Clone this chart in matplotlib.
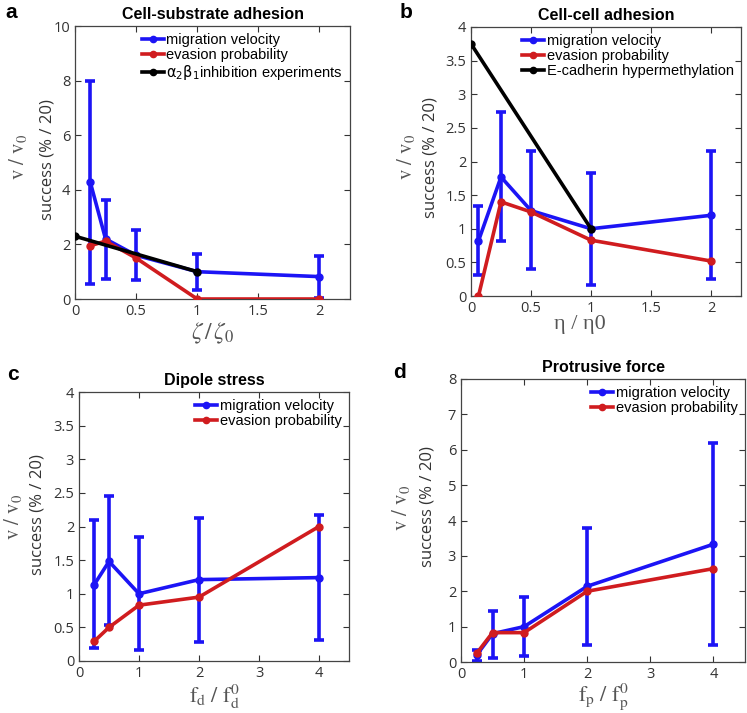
import matplotlib.pyplot as plt
from matplotlib.font_manager import FontProperties

# panel a : cell-substrate adhesion
a_x = [0.125, 0.25, 0.5, 1, 2]
a_vel = [4.28, 2.2, 1.6, 1.0, 0.82]
a_lo = [0.55, 0.75, 0.7, 0.32, 0.02]
a_hi = [8.0, 3.62, 2.53, 1.66, 1.58]
a_eva = [1.95, 2.12, 1.5, 0.0, 0.0]
a_exp_x = [0, 1]
a_exp = [2.3, 1.0]

# panel b : cell-cell adhesion
b_x = [0.0625, 0.25, 0.5, 1, 2]
b_vel = [0.82, 1.77, 1.27, 1.0, 1.2]
b_lo = [0.31, 0.82, 0.4, 0.16, 0.25]
b_hi = [1.34, 2.74, 2.15, 1.83, 2.15]
b_eva = [0.0, 1.4, 1.25, 0.83, 0.52]
b_exp_x = [0, 1]
b_exp = [3.75, 1.0]

# panel c : dipole stress
c_x = [0.25, 0.5, 1, 2, 4]
c_vel = [1.13, 1.48, 1.0, 1.21, 1.24]
c_lo = [0.2, 0.53, 0.16, 0.28, 0.31]
c_hi = [2.09, 2.45, 1.84, 2.13, 2.17]
c_eva = [0.29, 0.5, 0.83, 0.95, 2.0]

# panel d : protrusive force
d_x = [0.25, 0.5, 1, 2, 4]
d_vel = [0.2, 0.8, 1.0, 2.14, 3.33]
d_lo = [0.02, 0.11, 0.16, 0.47, 0.49]
d_hi = [0.35, 1.43, 1.83, 3.8, 6.18]
d_eva = [0.25, 0.83, 0.83, 2.0, 2.64]

BLUE = "#1c14f5"
RED = "#d01c1f"
TICKC = "#333333"

fig = plt.figure(figsize=(7.47, 7.13), dpi=100)
W, H = 747, 713


def px_axes(l, t, r, b):
    return fig.add_axes([l / W, 1 - b / H, (r - l) / W, (b - t) / H])


def panel(ax, x, vel, lo, hi, eva, ylab_x, ylab_y, exp_x=None, exp=None, exp_label=None):
    yerr = [[v - l for v, l in zip(vel, lo)], [h - v for v, h in zip(vel, hi)]]
    eb = ax.errorbar(x, vel, yerr=yerr, color=BLUE, lw=2.6, marker="o", ms=5,
                     capsize=3.5, capthick=2.6, elinewidth=2.6, zorder=2)
    handles = [eb.lines[0]]
    labels = ["migration velocity"]
    l2, = ax.plot(x, eva, color=RED, lw=2.6, marker="o", ms=5, zorder=3)
    handles.append(l2)
    labels.append("evasion probability")
    if exp is not None:
        l3, = ax.plot(exp_x, exp, color="black", lw=2.6, marker="o", ms=5, zorder=4)
        handles.append(l3)
        labels.append(exp_label)
    ax.tick_params(direction="in", top=True, right=True, labelsize=10.5, colors=TICKC,
                   length=4, width=0.8)
    for s in ax.spines.values():
        s.set_color("#444444")
        s.set_linewidth(0.9)
    prop = FontProperties(family=["Liberation Sans", "DejaVu Sans"], size=10.5,
                          math_fontfamily="dejavusans")
    ax.legend(handles, labels, loc="upper right", frameon=False, prop=prop, handlelength=1.5,
              handletextpad=0.2, labelspacing=0.05, borderaxespad=0.3, borderpad=0.2,
              markerscale=0.9)
    fig.text(ylab_x[0] / W, 1 - ylab_y[0] / H, r"$\mathrm{v\ /\ v_0}$", rotation=90,
             ha="center", va="center", fontsize=15, color="#555555", math_fontfamily="stix")
    fig.text(ylab_x[1] / W, 1 - ylab_y[1] / H, "success (% / 20)", rotation=90,
             ha="center", va="center", fontsize=12, color=TICKC, family="Open Sans")


def fix_fonts(ax):
    for t in ax.get_xticklabels() + ax.get_yticklabels():
        t.set_fontfamily("Open Sans")


# a
ax = px_axes(75, 26, 350, 299)
panel(ax, a_x, a_vel, a_lo, a_hi, a_eva, (18, 47), (157, 160),
      a_exp_x, a_exp, r"$\mathrm{\alpha_2\beta_1}$inhibition experiments")
ax.set_xlim(0, 2.25)
ax.set_ylim(0, 10)
ax.set_xticks([0, 0.5, 1, 1.5, 2])
ax.set_yticks([0, 2, 4, 6, 8, 10])
ax.set_xticklabels(["0", "0.5", "1", "1.5", "2"])
fix_fonts(ax)
ax.set_title("Cell-substrate adhesion", fontsize=11.5, fontweight="bold", family="Liberation Sans", pad=5)
fig.text(213 / W, 1 - 333 / H, r"$\zeta\,/\,\zeta_0$", ha="center", va="center", fontsize=17,
         color="#555555", math_fontfamily="stix")
fig.text(5 / W, 1 - 13 / H, "a", fontsize=15, fontweight="bold", family="Liberation Sans", va="center")

# b
ax = px_axes(471, 27, 741, 296)
panel(ax, b_x, b_vel, b_lo, b_hi, b_eva, (406, 431), (157, 158),
      b_exp_x, b_exp, "E-cadherin hypermethylation")
ax.set_xlim(0, 2.25)
ax.set_ylim(0, 4)
ax.set_xticks([0, 0.5, 1, 1.5, 2])
ax.set_xticklabels(["0", "0.5", "1", "1.5", "2"])
ax.set_yticks([0, 0.5, 1, 1.5, 2, 2.5, 3, 3.5, 4])
ax.set_yticklabels(["0", "0.5", "1", "1.5", "2", "2.5", "3", "3.5", "4"])
fix_fonts(ax)
ax.set_title("Cell-cell adhesion", fontsize=11.5, fontweight="bold", family="Liberation Sans", pad=5)
fig.text(580 / W, 1 - 325 / H, "η / η0", ha="center", va="center", fontsize=16,
         color="#555555", family="Liberation Serif")
fig.text(400 / W, 1 - 13 / H, "b", fontsize=15, fontweight="bold", family="Liberation Sans", va="center")

# c
ax = px_axes(79, 392, 349, 661)
panel(ax, c_x, c_vel, c_lo, c_hi, c_eva, (13, 38), (517, 515))
ax.set_xlim(0, 4.5)
ax.set_ylim(0, 4)
ax.set_xticks([0, 1, 2, 3, 4])
ax.set_yticks([0, 0.5, 1, 1.5, 2, 2.5, 3, 3.5, 4])
ax.set_yticklabels(["0", "0.5", "1", "1.5", "2", "2.5", "3", "3.5", "4"])
fix_fonts(ax)
ax.set_title("Dipole stress", fontsize=11.5, fontweight="bold", family="Liberation Sans", pad=5)
fig.text(214 / W, 1 - 697 / H, r"$\mathrm{f_d\ /\ f_d^0}$", ha="center", va="center", fontsize=16,
         color="#555555", math_fontfamily="stix")
fig.text(7 / W, 1 - 375 / H, "c", fontsize=15, fontweight="bold", family="Liberation Sans", va="center")

# d
ax = px_axes(461, 379, 745, 662)
panel(ax, d_x, d_vel, d_lo, d_hi, d_eva, (401, 428), (508, 507))
ax.set_xlim(0, 4.5)
ax.set_ylim(0, 8)
ax.set_xticks([0, 1, 2, 3, 4])
ax.set_yticks(range(9))
fix_fonts(ax)
ax.set_title("Protrusive force", fontsize=11.5, fontweight="bold", family="Liberation Sans", pad=5)
fig.text(603 / W, 1 - 697 / H, r"$\mathrm{f_p\ /\ f_p^0}$", ha="center", va="center", fontsize=16,
         color="#555555", math_fontfamily="stix")
fig.text(393 / W, 1 - 373 / H, "d", fontsize=15, fontweight="bold", family="Liberation Sans", va="center")

fig.savefig("out.png", dpi=100)
